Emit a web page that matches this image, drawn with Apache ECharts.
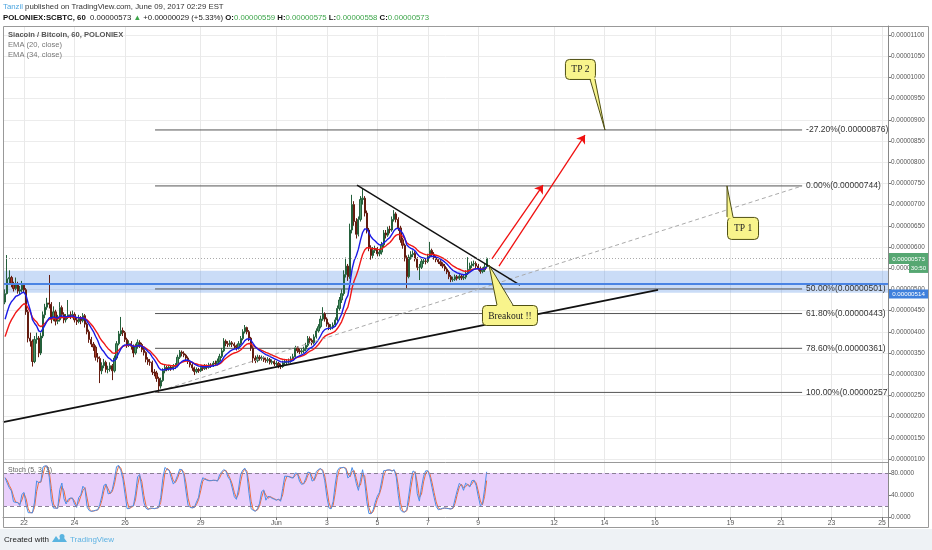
<!DOCTYPE html>
<html><head><meta charset="utf-8">
<script src="https://cdn.jsdelivr.net/npm/echarts@6/dist/echarts.min.js"></script>
<style>html,body{margin:0;padding:0;background:#fff;}#c{width:932px;height:550px;}</style>
</head><body><div id="c"></div>
<script>
// ---- data (prices in satoshi = 1e-8 BTC; time in hours from May 21 00:00) ----
const startHour = 6, stepHours = 2;
const firstOpen = 470;
const closes = [
490,525,528,512,502,514,496,499,510,499, 447,385,378,330,382,385,350,390,440,458,
468,465,430,447,425,428,457,441,428,434, 440,438,441,428,424,432,426,438,418,400,
382,371,364,340,337,308,320,328,311,312, 320,308,338,372,395,403,398,382,369,372,
366,350,365,375,370,358,351,335,329,328, 305,303,290,272,285,308,316,312,317,313,
318,320,340,352,349,345,338,330,322,315, 306,311,308,316,313,319,316,322,320,326,
324,331,342,355,378,372,370,374,371,367, 363,372,384,400,410,400,385,362,338,332,
340,337,339,334,332,335,328,330,324,326, 320,318,327,329,329,331,336,341,362,355,
353,355,359,368,384,380,374,388,402,412, 430,442,430,418,411,411,416,428,455,475,
490,535,555,530,640,700,660,630,665,712, 715,680,640,598,580,592,596,584,588,605,
633,628,642,640,665,678,665,645,617,604, 575,530,576,582,585,572,552,552,566,567,
566,578,592,583,575,570,565,560,555,548, 541,530,523,524,530,526,531,527,529,538,
547,556,560,561,555,550,542,546,553,573];
const highs = [
500,581,545,532,518,528,518,508,520,514, 503,452,398,382,390,398,390,398,448,466,
480,534,470,460,452,440,470,462,446,442, 475,448,450,446,434,440,437,444,442,422,
405,388,376,368,350,342,328,336,332,320, 328,324,344,378,402,435,410,402,386,380,
378,370,372,382,380,374,362,354,340,336, 332,312,308,294,292,314,322,320,322,321,
324,326,346,357,356,354,348,342,334,326, 318,316,315,320,320,324,323,327,326,331,
332,337,348,362,385,382,378,380,378,375, 370,378,390,406,416,412,404,388,366,344,
346,345,344,342,339,340,338,335,333,331, 329,325,332,335,335,337,342,348,367,366,
360,361,365,374,390,389,384,394,408,418, 438,458,446,434,422,418,422,434,462,482,
500,545,575,560,655,723,708,668,672,720, 739,720,686,645,604,600,603,600,596,612,
640,640,648,650,672,687,682,670,650,622, 608,580,582,590,592,590,576,560,572,574,
573,584,612,596,588,580,574,569,564,560, 552,545,534,530,535,534,536,534,534,545,
576,563,566,568,566,560,554,552,560,575];
const lows = [
465,488,512,505,495,498,490,488,494,492, 440,375,365,318,326,372,340,345,385,432,
452,455,420,425,415,418,424,432,420,422, 430,430,432,422,416,420,418,422,410,394,
374,364,355,332,328,279,300,314,304,302, 306,286,304,334,368,390,390,376,362,364,
358,340,346,360,362,352,344,328,322,320, 298,295,282,257,266,282,302,307,308,308,
309,312,316,336,342,340,332,324,316,308, 298,302,303,305,308,310,311,313,315,317,
319,321,328,338,352,366,364,365,364,360, 356,358,368,380,396,394,378,355,327,326,
328,332,332,329,327,327,323,323,319,319, 314,312,315,322,323,325,327,332,338,350,
347,348,350,354,364,372,368,370,384,398, 408,426,424,412,404,404,406,412,424,450,
468,485,528,520,525,632,650,620,625,660, 700,672,632,590,570,574,586,578,578,582,
600,620,624,632,636,660,658,638,610,596, 566,503,526,570,576,566,545,522,548,560,
559,562,574,577,570,564,560,555,550,543, 536,524,517,518,520,521,522,522,522,524,
534,542,550,554,549,544,537,538,541,550];
const ema20Seed = 416, ema34Seed = 376;          // EMA levels read at the left edge
const priceTicks = [100,150,200,250,300,350,400,450,500,550,600,650,700,750,800,850,900,950,1000,1050,1100];
const stochTicks = [0,40,80];
const dayTicks  = [24,72,120,192,264,312,360,408,456,528,576,624,696,744,792,840];
const dayLabels = ['22','24','26','29','Jun','3','5','7','9','12','14','16','19','21','23','25'];
const fibPct   = [-27.2, 0, 50, 61.8, 78.6, 100];
const fibPrice = [876, 744, 501, 443, 361, 257];
const fibSpan  = [148.6, 764];
const supportLine = [[4,187],[627,499]];
const wedgeLine   = [[340.7,746],[495.7,510]];
const fibTrend    = [[148.6,257],[764,744]];
const arrowShort  = [[469,572],[517.6,746]];
const arrowLong   = [[475.7,555],[557.5,864]];
const zone = {low:492, high:544, mid:514};
const lastPrice = 573;
const tp2Tip = [576.5,876], tp1Tip = [692.6,744], breakoutTip = [466.2,557.5];

// ---- derived ----
const times = closes.map((_, i) => startHour + i * stepHours);
const opens = closes.map((c, i) => i === 0 ? firstOpen : closes[i - 1]);
const candles = closes.map((c, i) => [times[i], opens[i], c,
  Math.min(lows[i], opens[i], c), Math.max(highs[i], opens[i], c)]);
function ema(seed, period) {
  const a = 2 / (period + 1); let e = seed;
  return closes.map((c, i) => { e += a * (c - e); return [times[i], e]; });
}
const ema20 = ema(ema20Seed, 10), ema34 = ema(ema34Seed, 17);
function sma(arr, n) {
  return arr.map((v, i) => { const s = arr.slice(Math.max(0, i - n + 1), i + 1); return s.reduce((a, b) => a + b, 0) / s.length; });
}
const rawK = closes.map((c, i) => {
  const lo = Math.min(...lows.slice(Math.max(0, i - 3), i + 1));
  const hi = Math.max(...highs.slice(Math.max(0, i - 3), i + 1));
  return hi === lo ? 50 : (c - lo) / (hi - lo) * 100;
});
const kLine = sma(rawK, 2), dLine = sma(kLine, 2);

const FONT = '"Liberation Sans", Arial, sans-serif';
const SERIF = '"Liberation Serif", "DejaVu Serif", serif';
const fmtP = v => (v / 1e8).toFixed(8);
const dayFmt = v => { const i = dayTicks.indexOf(Math.round(v)); return i >= 0 ? dayLabels[i] : ''; };

const chart = echarts.init(document.getElementById('c'));
const xBase = { type: 'value', min: 4, max: 845.7, axisLine: { show: false },
  axisTick: { show: false, customValues: dayTicks },
  axisLabel: { show: false, customValues: dayTicks },
  splitLine: { show: true, lineStyle: { color: '#e9e9e9', width: 1 } } };

chart.setOption({
  animation: false,
  backgroundColor: '#fff',
  grid: [
    { left: 3, width: 885, top: 26, height: 436 },
    { left: 3, width: 885, top: 462, height: 55 }
  ],
  xAxis: [
    Object.assign({}, xBase, { gridIndex: 0 }),
    Object.assign({}, xBase, { gridIndex: 1,
      axisLine: { show: true, lineStyle: { color: '#999' } },
      axisTick: { show: true, length: 3, customValues: dayTicks, lineStyle: { color: '#777' } },
      axisLabel: { show: true, customValues: dayTicks, formatter: dayFmt, fontSize: 6.8, color: '#555', margin: 3, fontFamily: FONT } })
  ],
  yAxis: [
    { gridIndex: 0, type: 'value', position: 'right', min: 92.9, max: 1121.2,
      axisLine: { show: true, lineStyle: { color: '#888' } },
      axisTick: { show: true, length: 3, customValues: priceTicks, lineStyle: { color: '#777' } },
      axisLabel: { customValues: priceTicks, formatter: fmtP, fontSize: 6.4, color: '#555', margin: 3, fontFamily: FONT },
      splitLine: { show: true, lineStyle: { color: '#ececec' } } },
    { gridIndex: 1, type: 'value', position: 'right', min: 0, max: 100,
      axisLine: { show: true, lineStyle: { color: '#888' } },
      axisTick: { show: true, length: 3, customValues: stochTicks, lineStyle: { color: '#777' } },
      axisLabel: { customValues: stochTicks, formatter: v => v.toFixed(4), fontSize: 6.4, color: '#555', margin: 3, fontFamily: FONT },
      splitLine: { show: false } }
  ],
  series: [
    { name: 'zone', type: 'line', xAxisIndex: 0, yAxisIndex: 0, data: [], silent: true,
      markArea: { silent: true, itemStyle: { color: 'rgba(90,145,230,0.32)' },
        data: [[{ yAxis: zone.low }, { yAxis: zone.high }]] },
      markLine: { silent: true, symbol: 'none', label: { show: false },
        data: [ { yAxis: zone.mid, lineStyle: { color: '#4a84e4', width: 2, type: 'solid' } },
                { yAxis: lastPrice, lineStyle: { color: '#aaa', width: 1, type: [1, 2] } } ] } },
    { name: 'fib', type: 'custom', xAxisIndex: 0, yAxisIndex: 0, clip: true, silent: true,
      data: fibPct.map((p, i) => [fibSpan[0], fibPrice[i], p]),
      encode: { x: 0, y: 1 },
      renderItem: (params, api) => {
        const price = api.value(1), pct = api.value(2);
        const a = api.coord([fibSpan[0], price]), b = api.coord([fibSpan[1], price]);
        return { type: 'group', children: [
          { type: 'line', shape: { x1: a[0], y1: a[1], x2: b[0], y2: b[1] }, style: { stroke: '#555', lineWidth: 1 } },
          { type: 'text', x: b[0] + 4, y: b[1], style: { text: pct.toFixed(2) + '%(' + fmtP(price) + ')', fill: '#333',
              fontSize: 8.5, fontFamily: FONT, align: 'left', verticalAlign: 'middle' } }
        ] };
      } },
    { name: 'price', type: 'candlestick', xAxisIndex: 0, yAxisIndex: 0, data: candles, barWidth: 1.7,
      itemStyle: { color: '#4f9469', color0: '#a63a27', borderColor: '#24603b', borderColor0: '#641c10', borderWidth: 1 } },
    { name: 'EMA 34', type: 'line', data: ema34, showSymbol: false, lineStyle: { color: '#f01818', width: 1.4 } },
    { name: 'EMA 20', type: 'line', data: ema20, showSymbol: false, lineStyle: { color: '#1a1ae6', width: 1.4 } },
    { name: 'fibTrend', type: 'line', data: fibTrend, showSymbol: false, silent: true,
      lineStyle: { color: '#aaa', width: 1, type: [4, 3] } },
    { name: 'support', type: 'line', data: supportLine, showSymbol: false, silent: true,
      lineStyle: { color: '#111', width: 1.8 } },
    { name: 'wedge', type: 'line', data: wedgeLine, showSymbol: false, silent: true,
      lineStyle: { color: '#111', width: 1.4 },
      markLine: { silent: true, symbol: ['none', 'arrow'], symbolSize: 8, label: { show: false },
        lineStyle: { color: '#f01010', width: 1.3, type: 'solid' },
        data: [ [{ coord: arrowShort[0] }, { coord: arrowShort[1] }],
                [{ coord: arrowLong[0] }, { coord: arrowLong[1] }] ] } },
    { name: 'band', type: 'line', xAxisIndex: 1, yAxisIndex: 1, data: [], silent: true,
      markArea: { silent: true, itemStyle: { color: '#e9d0fb' }, data: [[{ yAxis: 20 }, { yAxis: 80 }]] },
      markLine: { silent: true, symbol: 'none', label: { show: false },
        lineStyle: { color: '#8a7f96', type: [4, 3], width: 1 }, data: [{ yAxis: 20 }, { yAxis: 80 }] } },
    { name: '%D', type: 'line', xAxisIndex: 1, yAxisIndex: 1, data: dLine.map((v, i) => [times[i], v]),
      showSymbol: false, lineStyle: { color: '#ef6c3c', width: 1 } },
    { name: '%K', type: 'line', xAxisIndex: 1, yAxisIndex: 1, data: kLine.map((v, i) => [times[i], v]),
      showSymbol: false, lineStyle: { color: '#4a8ee8', width: 1 } }
  ]
});

// ---- overlays positioned through the chart's scales ----
const px = d => chart.convertToPixel({ gridIndex: 0 }, d);
const YEL = '#f8f48c', OLV = '#4f4f14';
function callout(tip, box, base, text) {
  const [tx, ty] = px(tip);
  const bx = tx + box[0], by = ty + box[1];
  const b1 = [tx + base[0], ty + base[1]], b2 = [tx + base[2], ty + base[3]];
  const inward = base[1] < 0 ? 1.5 : -1.5;
  return [
    { type: 'rect', z: 100, shape: { x: bx + 0.5, y: by + 0.5, width: box[2], height: box[3], r: 4 }, style: { fill: YEL, stroke: OLV, lineWidth: 1 } },
    { type: 'polygon', z: 101, shape: { points: [[b1[0], b1[1] - inward], [b2[0], b2[1] - inward], [tx, ty]] }, style: { fill: YEL } },
    { type: 'polyline', z: 102, shape: { points: [b1, [tx, ty], b2] }, style: { stroke: OLV, lineWidth: 1, fill: null } },
    { type: 'text', z: 103, style: { text: text, x: bx + box[2] / 2 + 0.5, y: by + box[3] / 2 + 1, align: 'center', verticalAlign: 'middle',
        fontSize: 9.5, fontFamily: SERIF, fill: '#222' } }
  ];
}
const yLast = px([0, lastPrice])[1], yMid = px([0, zone.mid])[1];
const G = [];
// frame
G.push({ type: 'rect', z: 50, shape: { x: 3.5, y: 26.5, width: 925, height: 501 }, style: { fill: null, stroke: '#999', lineWidth: 1 } });
G.push({ type: 'line', z: 50, shape: { x1: 888.5, y1: 26, x2: 888.5, y2: 528 }, style: { stroke: '#888', lineWidth: 1 } });
G.push({ type: 'line', z: 50, shape: { x1: 3, y1: 462.5, x2: 888, y2: 462.5 }, style: { stroke: '#999', lineWidth: 1 } });
// footer
G.push({ type: 'rect', z: 40, shape: { x: 0, y: 529, width: 932, height: 21 }, style: { fill: '#eef2f5' } });
G.push({ type: 'text', z: 41, style: { text: 'Created with', x: 4, y: 540, verticalAlign: 'middle', fontSize: 8, fontFamily: FONT, fill: '#222' } });
G.push({ type: 'polygon', z: 41, shape: { points: [[52, 542], [56, 536], [59, 540], [62, 535], [67, 542]] }, style: { fill: '#5ab4e0' } });
G.push({ type: 'circle', z: 41, shape: { cx: 62, cy: 536.5, r: 2.5 }, style: { fill: '#5ab4e0' } });
G.push({ type: 'text', z: 41, style: { text: 'TradingView', x: 70, y: 540, verticalAlign: 'middle', fontSize: 8, fontFamily: FONT, fill: '#5fb3e3' } });
// header
G.push({ type: 'text', z: 60, style: { x: 3, y: 7, verticalAlign: 'middle', fontSize: 7.8, fontFamily: FONT, fill: '#333',
  text: '{a|Tanzil} published on TradingView.com, June 09, 2017 02:29 EST', rich: { a: { fill: '#4ea6e0', fontSize: 7.8, fontFamily: FONT } } } });
G.push({ type: 'text', z: 60, style: { x: 3, y: 17.5, verticalAlign: 'middle', fontSize: 7.8, fontFamily: FONT, fill: '#222',
  text: '{b|POLONIEX:SCBTC, 60}  0.00000573 {g|▲} +0.00000029 (+5.33%) {b|O:}{g|0.00000559} {b|H:}{g|0.00000575} {b|L:}{g|0.00000558} {b|C:}{g|0.00000573}',
  rich: { b: { fontWeight: 'bold', fill: '#111', fontSize: 7.8, fontFamily: FONT }, g: { fill: '#3da54a', fontSize: 7.8, fontFamily: FONT } } } });
// legends
G.push({ type: 'text', z: 60, style: { x: 8, y: 35, verticalAlign: 'middle', fontSize: 7.6, fontWeight: 'bold', fontFamily: FONT, fill: '#555', text: 'Siacoin / Bitcoin, 60, POLONIEX' } });
G.push({ type: 'text', z: 60, style: { x: 8, y: 45, verticalAlign: 'middle', fontSize: 7.6, fontFamily: FONT, fill: '#777', text: 'EMA (20, close)' } });
G.push({ type: 'text', z: 60, style: { x: 8, y: 55, verticalAlign: 'middle', fontSize: 7.6, fontFamily: FONT, fill: '#777', text: 'EMA (34, close)' } });
G.push({ type: 'text', z: 60, style: { x: 8, y: 470, verticalAlign: 'middle', fontSize: 7, fontFamily: FONT, fill: '#666', text: 'Stoch (5, 3, 3)' } });
// price-axis tags
G.push({ type: 'rect', z: 70, shape: { x: 889, y: yLast - 5.5, width: 39, height: 11 }, style: { fill: '#56a772' } });
G.push({ type: 'text', z: 71, style: { x: 908.5, y: yLast + 0.5, align: 'center', verticalAlign: 'middle', fontSize: 6.2, fontFamily: FONT, fill: '#fff', text: fmtP(lastPrice) } });
G.push({ type: 'rect', z: 70, shape: { x: 909, y: yLast + 4.5, width: 19, height: 10 }, style: { fill: '#56a772' } });
G.push({ type: 'text', z: 71, style: { x: 918.5, y: yLast + 9.8, align: 'center', verticalAlign: 'middle', fontSize: 6.2, fontFamily: FONT, fill: '#fff', text: '30:50' } });
G.push({ type: 'rect', z: 70, shape: { x: 889, y: yMid + 6, width: 39, height: 9 }, style: { fill: '#3f80dc' } });
G.push({ type: 'text', z: 71, style: { x: 908.5, y: yMid + 10.7, align: 'center', verticalAlign: 'middle', fontSize: 6.2, fontFamily: FONT, fill: '#fff', text: fmtP(zone.mid) } });
// callouts
G.push(...callout(tp2Tip, [-40, -71, 30, 20], [-15, -51, -10, -51], 'TP 2'));
G.push(...callout(tp1Tip, [0, 31, 31, 22], [0, 31, 6, 31], 'TP 1'));
G.push(...callout(breakoutTip, [-7, 40, 55, 20], [8, 40, 24, 40], 'Breakout !!'));
chart.setOption({ graphic: G });
</script></body></html>
